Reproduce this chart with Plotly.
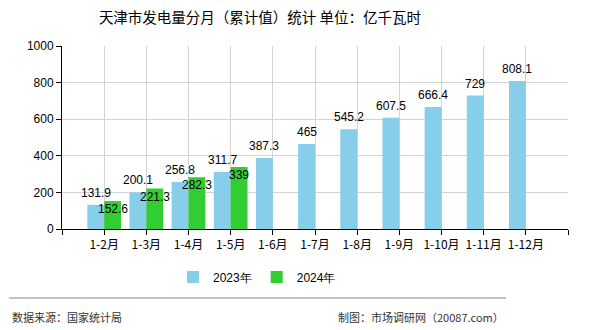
import plotly.graph_objects as go

categories = ["1-2月", "1-3月", "1-4月", "1-5月", "1-6月", "1-7月", "1-8月", "1-9月", "1-10月", "1-11月", "1-12月"]
values_2023 = [131.9, 200.1, 256.8, 311.7, 387.3, 465, 545.2, 607.5, 666.4, 729, 808.1]
values_2024 = [152.6, 221.3, 282.3, 339]
labels_2023 = ["131.9", "200.1", "256.8", "311.7", "387.3", "465", "545.2", "607.5", "666.4", "729", "808.1"]
labels_2024 = ["152.6", "221.3", "282.3", "339"]
y_ticks = [0, 200, 400, 600, 800, 1000]

x23 = list(range(len(values_2023)))
x24 = list(range(len(values_2024)))

BLUE = "#87CEEB"
GREEN = "#32CD32"
LABEL_FONT = dict(family="Liberation Sans, Arial", size=12, color="#000")

fig = go.Figure()
fig.add_trace(go.Bar(x=x23, y=values_2023, name="2023年", marker=dict(color=BLUE, line=dict(width=0)),
                     width=0.4, offset=-0.4))
fig.add_trace(go.Bar(x=x24, y=values_2024, name="2024年", marker=dict(color=GREEN, line=dict(width=0)),
                     width=0.4, offset=0.0))

annotations = []
for xi, v, t in zip(x23, values_2023, labels_2023):
    annotations.append(dict(x=xi - 0.2, y=v, text=t, showarrow=False, xref="x", yref="y",
                            yshift=12, font=LABEL_FONT))
for xi, v, t in zip(x24, values_2024, labels_2024):
    annotations.append(dict(x=xi + 0.2, y=v, text=t, showarrow=False, xref="x", yref="y",
                            yshift=-8, font=LABEL_FONT))

# footer
annotations.append(dict(x=10, y=317, xref="paper", yref="paper", text="数据来源：国家统计局",
                        showarrow=False, xanchor="left", yanchor="middle",
                        font=dict(family="Noto Sans CJK SC", size=11, color="#333")))
annotations.append(dict(x=506, y=317, xref="paper", yref="paper", text="制图：市场调研网（20087.com）",
                        showarrow=False, xanchor="right", yanchor="middle",
                        font=dict(family="Noto Sans CJK SC", size=11, color="#333")))

W, H = 590, 330
L, R, T, B = 62, 22, 46, 101
pw, ph = W - L - R, H - T - B


def px(x):
    return (x - L) / pw


def py(y):
    return (H - B - y) / ph


for a in annotations:
    if a["xref"] == "paper":
        a["x"] = px(a["x"])
        a["y"] = py(a["y"])

fig.update_layout(
    width=W, height=H,
    margin=dict(l=L, r=R, t=T, b=B, pad=0),
    paper_bgcolor="white", plot_bgcolor="white",
    title=dict(text="天津市发电量分月（累计值）统计 单位：亿千瓦时", x=260 / W, xanchor="center",
               y=1 - 18 / H, yanchor="middle",
               font=dict(family="Noto Sans CJK SC", size=14.5, color="#000")),
    barmode="overlay",
    showlegend=True,
    legend=dict(orientation="h", x=px(257), y=py(277), xanchor="center", yanchor="middle",
                font=dict(family="Liberation Sans, Arial", size=12, color="#000"),
                itemwidth=30, tracegroupgap=0),
    xaxis=dict(range=[-1, 11], tickmode="array", tickvals=list(range(-1, len(categories) + 1)),
               ticktext=[""] + categories + [""], showgrid=True, gridcolor="#d3d3d3", gridwidth=1,
               showline=True, linecolor="#000", linewidth=1, ticks="outside", ticklen=5,
               tickcolor="#000", zeroline=False,
               tickfont=dict(family="Noto Sans CJK SC", size=12, color="#000")),
    yaxis=dict(range=[0, 1000], tickmode="array", tickvals=y_ticks, showgrid=True,
               gridcolor="#d3d3d3", gridwidth=1, showline=True, linecolor="#000", linewidth=1,
               ticks="outside", ticklen=5, tickcolor="#000", zeroline=False,
               tickfont=dict(family="Liberation Sans, Arial", size=12, color="#000")),
    annotations=annotations,
    shapes=[dict(type="line", xref="paper", yref="paper", x0=px(9), x1=px(506), y0=py(298), y1=py(298),
                 line=dict(color="#888", width=1))],
)

fig.write_html("out.html")
